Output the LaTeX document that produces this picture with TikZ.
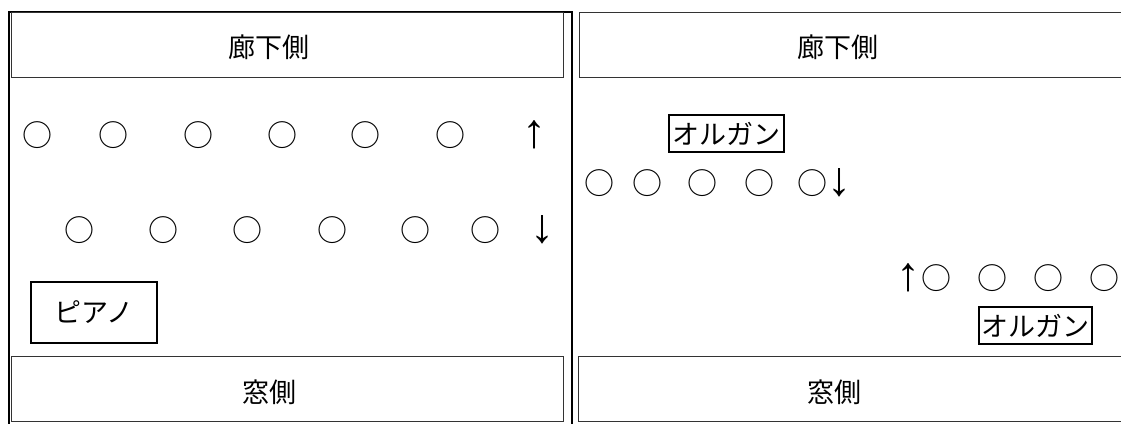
\documentclass[tikz,border=0pt]{standalone}
\usepackage{fontspec}
\usetikzlibrary{positioning}
\newfontfamily\jp{Noto Sans CJK JP}
\newfontfamily\arrowfont{Liberation Serif}
\begin{document}
\begin{tikzpicture}[
            x=1pt, y=-1pt,
            every node/.style={font=\jp\fontsize{27}{30}\selectfont, inner sep=0pt}
        ]

        % Define styles for nodes
        \tikzset{
            side/.style={rectangle, draw=black!80, line width=1pt, minimum height=65},
            seat/.style={font=\jp\fontsize{30}{32}\selectfont},
            way/.style={font=\arrowfont\fontsize{48}{50}\selectfont},
            piano/.style={rectangle, draw=black, line width=1.2pt, minimum width=126, minimum height=61},
            organ/.style={rectangle, draw=black, line width=2pt, minimum height=37},
            wall/.style={draw=black, line width=2pt}
        }

        \useasboundingbox (0,0) rectangle (1121,423);

        % Left room
        \draw[wall] (9,424) -- (9,12) -- (572,12) -- (572,424);
        \node[side, minimum width=552] (hallL) at (287,44.5) {};
        \node (hallLtext) at (269,47) {廊下側};
        \node[side, minimum width=552] (windowL) at (287,388.5) {};
        \node (windowLtext) at (269,392) {窓側};

        % Seats of the left room
        \foreach \x [count=\i] in {37,113,198,282,365,450}
            \node[seat] (frontL\i) at (\x,135) {○};
        \node[way] (upL) at (534,135) {↑};
        \foreach \x [count=\i] in {79,163,247,332,415,485}
            \node[seat] (backL\i) at (\x,230) {○};
        \node[way] (downL) at (542,230) {↓};
        \node[piano] (piano) at (94,312.5) {ピアノ};

        % Right room
        \node[side, minimum width=560] (hallR) at (859,44.5) {};
        \node (hallRtext) at (838,47) {廊下側};
        \node[side, minimum width=560] (windowR) at (858,388.5) {};
        \node (windowRtext) at (834,392) {窓側};
        \node[organ, minimum width=115] (organA) at (726.5,133.5) {オルガン};

        % Seats of the right room
        \foreach \x [count=\i] in {599,647,702,759,812}
            \node[seat] (frontR\i) at (\x,183) {○};
        \node[way, right=0pt of frontR5] (downR) {↓};
        \foreach \x [count=\i] in {936,992,1048,1104}
            \node[seat] (backR\i) at (\x,278) {○};
        \node[way, left=0pt of backR1] (upR) {↑};
        \node[organ, minimum width=113] (organB) at (1035.5,325.5) {オルガン};

\end{tikzpicture}
\end{document}
